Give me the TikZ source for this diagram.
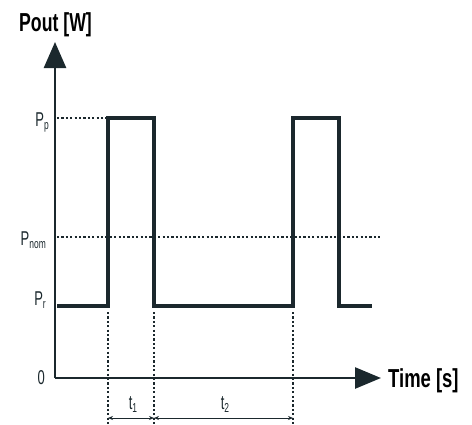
\documentclass[tikz,border=0pt]{standalone}
\usepackage{fontspec}
\setmainfont{Liberation Sans}
\usetikzlibrary{arrows.meta}
\definecolor{ink}{RGB}{27,40,45}
\tikzset{
  axisline/.style={draw=ink, line width=2.6pt},
  pulse/.style={draw=ink, line width=3.6pt, line join=miter},
  dotline/.style={draw=ink, line width=1.4pt, dash pattern=on 2.2pt off 2.2pt},
  dimline/.style={draw=ink, line width=0.8pt, {Stealth[length=5pt,width=4pt]}-{Stealth[length=5pt,width=4pt]}},
  title/.style={font=\fontsize{26}{26}\selectfont\bfseries, text=black, inner sep=0pt},
  lbl/.style={font=\fontsize{20}{20}\selectfont, text=ink, inner sep=0pt},
}
\newcommand{\cnd}[2][0.65]{\scalebox{#1}[1]{#2}}
\newcommand{\sbs}[1]{\raisebox{-3.5pt}{\fontsize{13}{13}\selectfont #1}}
\begin{document}
\begin{tikzpicture}[x=1pt,y=-1pt]
\useasboundingbox (0,0) rectangle (472,424);
% coordinates
\coordinate (o) at (55,378);
\coordinate (ytop) at (55,42);
\coordinate (xend) at (381,378);
% dotted guides
\draw[dotline] (57,118) -- (106,118);
\draw[dotline] (57,237) -- (380,237);
\draw[dotline] (108,312) -- (108,424);
\draw[dotline] (154,312) -- (154,424);
\draw[dotline] (293,312) -- (293,424);
% pulse signal
\draw[pulse] (57,306) -- (108,306) -- (108,118) -- (154,118) -- (154,306) -- (293,306) -- (293,118) -- (339,118) -- (339,306) -- (372,306);
% axes
\draw[axisline, -{Triangle[length=26pt,width=22pt]}] (o) -- (ytop);
\draw[axisline, -{Triangle[length=26pt,width=21pt]}] (o) -- (xend);
% axis titles
\node[title, anchor=base west] (ylab) at (19,31) {\cnd[0.68]{Pout [W]}};
\node[title, anchor=base west] (xlab) at (388,387) {\cnd[0.71]{Time [s]}};
% level labels
\node[lbl, anchor=base east] (pp) at (49,126) {\cnd{P\sbs{p}}};
\node[lbl, anchor=base east] (pnom) at (46,245) {\cnd{P\sbs{nom}}};
\node[lbl, anchor=base east] (pr) at (46,305) {\cnd{P\sbs{r}}};
\node[lbl, anchor=base east] (zero) at (45,384) {\cnd{0}};
% time dimensions
\coordinate (a1) at (108,418);
\coordinate (a2) at (154,418);
\coordinate (a3) at (293,418);
\draw[dimline] (a1) -- (a2);
\draw[dimline] (a2) -- (a3);
\node[lbl, anchor=base] (t1) at (133,409) {\cnd{t\sbs{1}}};
\node[lbl, anchor=base] (t2) at (225,409) {\cnd{t\sbs{2}}};
\end{tikzpicture}
\end{document}
